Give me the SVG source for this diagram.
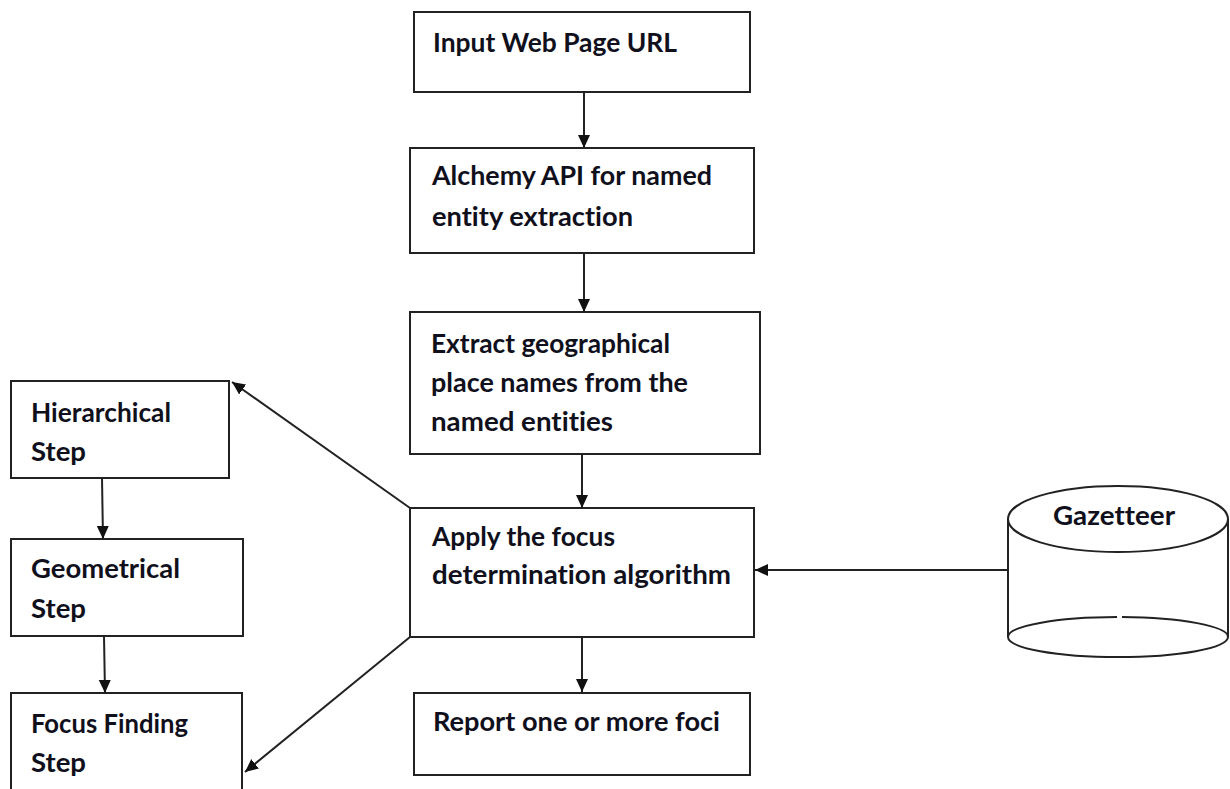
<svg xmlns="http://www.w3.org/2000/svg" width="1230" height="789" viewBox="0 0 1230 789">
<defs>
<marker id="ah" markerWidth="14" markerHeight="14" refX="13" refY="7" orient="auto" markerUnits="userSpaceOnUse">
<path d="M0,1 L13,7 L0,13 z" fill="#111"/>
</marker>
<style>
.box{fill:#fff;stroke:#222;stroke-width:2}
.t{font-family:Lato,"Liberation Sans",sans-serif;font-weight:bold;font-size:26px;fill:#10101c;font-variant-ligatures:none;font-feature-settings:"liga" 0}
.c{fill:none;stroke:#222;stroke-width:2;marker-end:url(#ah)}
</style>
</defs>
<rect width="1230" height="789" fill="#fff"/>
<g id="n1"><rect class="box" x="414" y="12" width="336" height="80"/><text class="t" x="433" y="52" textLength="244" lengthAdjust="spacingAndGlyphs">Input Web Page URL</text></g>
<g id="n2"><rect class="box" x="410" y="148" width="344" height="105"/><text class="t" x="432" y="185" textLength="280" lengthAdjust="spacingAndGlyphs">Alchemy API for named</text><text class="t" x="432" y="226" textLength="201" lengthAdjust="spacingAndGlyphs">entity extraction</text></g>
<g id="n3"><rect class="box" x="410" y="312" width="350" height="142"/><text class="t" x="431" y="353" textLength="239" lengthAdjust="spacingAndGlyphs">Extract geographical</text><text class="t" x="431" y="392" textLength="257" lengthAdjust="spacingAndGlyphs">place names from the</text><text class="t" x="431" y="431" textLength="182" lengthAdjust="spacingAndGlyphs">named entities</text></g>
<g id="n4"><rect class="box" x="410" y="508" width="344" height="129"/><text class="t" x="432" y="546" textLength="183" lengthAdjust="spacingAndGlyphs">Apply the focus</text><text class="t" x="432" y="584" textLength="299" lengthAdjust="spacingAndGlyphs">determination algorithm</text></g>
<g id="n5"><rect class="box" x="414" y="693" width="336" height="82"/><text class="t" x="433" y="731" textLength="287" lengthAdjust="spacingAndGlyphs">Report one or more foci</text></g>
<g id="gaz">
<path d="M1008,519 L1008,637 M1228,519 L1228,637" fill="none" stroke="#222" stroke-width="2"/>
<ellipse cx="1118" cy="519" rx="110" ry="33" fill="#fff" stroke="#222" stroke-width="2"/>
<path d="M1117,617 A110,20 0 0 0 1008,637 A110,20 0 0 0 1228,637 A110,20 0 0 0 1122,617" fill="none" stroke="#222" stroke-width="2"/>
<text class="t" x="1053" y="525" textLength="122" lengthAdjust="spacingAndGlyphs">Gazetteer</text>
</g>
<g id="h1"><rect class="box" x="11" y="381" width="218" height="97"/><text class="t" x="31" y="422" textLength="140" lengthAdjust="spacingAndGlyphs">Hierarchical</text><text class="t" x="31" y="461" textLength="55" lengthAdjust="spacingAndGlyphs">Step</text></g>
<g id="h2"><rect class="box" x="11" y="539" width="232" height="97"/><text class="t" x="31" y="578" textLength="149" lengthAdjust="spacingAndGlyphs">Geometrical</text><text class="t" x="31" y="618" textLength="55" lengthAdjust="spacingAndGlyphs">Step</text></g>
<g id="h3"><rect class="box" x="11" y="693" width="231" height="110"/><text class="t" x="31" y="733" textLength="157" lengthAdjust="spacingAndGlyphs">Focus Finding</text><text class="t" x="31" y="772" textLength="55" lengthAdjust="spacingAndGlyphs">Step</text></g>
<g id="connectors">
<line class="c" x1="584" y1="92" x2="584" y2="148"/>
<line class="c" x1="584" y1="253" x2="584" y2="312"/>
<line class="c" x1="582" y1="454" x2="582" y2="508"/>
<line class="c" x1="582" y1="637" x2="582" y2="692"/>
<line class="c" x1="1008" y1="570" x2="755" y2="570"/>
<line class="c" x1="410" y1="508" x2="232" y2="382"/>
<line class="c" x1="410" y1="637" x2="245" y2="772"/>
<line class="c" x1="102" y1="478" x2="103" y2="539"/>
<line class="c" x1="104" y1="636" x2="105" y2="693"/>
</g>
</svg>
